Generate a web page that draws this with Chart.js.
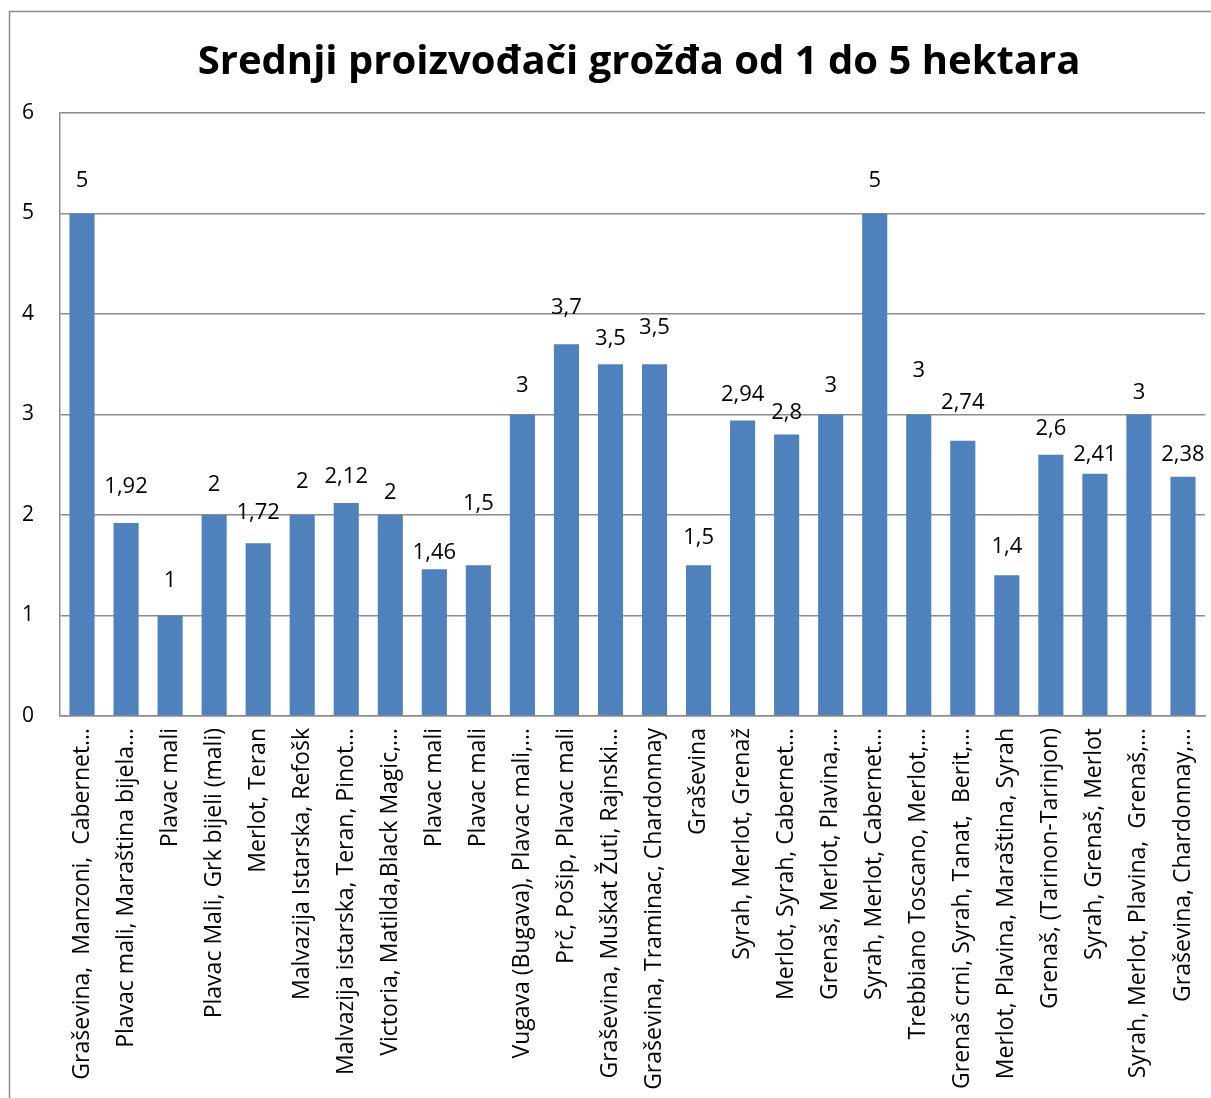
<!DOCTYPE html>
<html><head><meta charset="utf-8">
<script src="https://cdn.jsdelivr.net/npm/chart.js@4/dist/chart.umd.min.js"></script>
<style>html,body{margin:0;padding:0;background:#fff;overflow:hidden}#wrap{position:absolute;left:0;top:0;width:1211px;height:1098px}</style>
</head><body><div id="wrap"><canvas id="c" width="1211" height="1098"></canvas></div>
<script>
const titleText = "Srednji proizvođači grožđa od 1 do 5 hektara";
const categories = [
  "Graševina,  Manzoni,  Cabernet…",
  "Plavac mali, Maraština bijela…",
  "Plavac mali",
  "Plavac Mali, Grk bijeli (mali)",
  "Merlot, Teran",
  "Malvazija Istarska, Refošk",
  "Malvazija istarska, Teran, Pinot…",
  "Victoria, Matilda,Black Magic,…",
  "Plavac mali",
  "Plavac mali",
  "Vugava (Bugava), Plavac mali,…",
  "Prč, Pošip, Plavac mali",
  "Graševina, Muškat Žuti, Rajnski…",
  "Graševina, Traminac, Chardonnay",
  "Graševina",
  "Syrah, Merlot, Grenaž",
  "Merlot, Syrah, Cabernet…",
  "Grenaš, Merlot, Plavina,…",
  "Syrah, Merlot, Cabernet…",
  "Trebbiano Toscano, Merlot,…",
  "Grenaš crni, Syrah, Tanat,  Berit,…",
  "Merlot, Plavina, Maraština, Syrah",
  "Grenaš, (Tarinon-Tarinjon)",
  "Syrah, Grenaš, Merlot",
  "Syrah, Merlot, Plavina,  Grenaš,…",
  "Graševina, Chardonnay,…"
];
const values = [5, 1.92, 1, 2, 1.72, 2, 2.12, 2, 1.46, 1.5, 3, 3.7, 3.5, 3.5, 1.5, 2.94, 2.8, 3, 5, 3, 2.74, 1.4, 2.6, 2.41, 3, 2.38];
const valueLabels = ["5","1,92","1","2","1,72","2","2,12","2","1,46","1,5","3","3,7","3,5","3,5","1,5","2,94","2,8","3","5","3","2,74","1,4","2,6","2,41","3","2,38"];
const yMin = 0, yMax = 6, yStep = 1;

// label placement (px above bar top), as manually placed in the original
const labelLift = [33,36,35,30,30,33,26,22,17,62,29,36,26,37,28,26,22,29,33,44,38,29,26,19,22,22];

const FONT = "'Open Sans', 'Noto Sans', sans-serif";
const GRID = '#8c8c8c';

const framePlugin = {
  id: 'frame',
  beforeDraw(chart) {
    const c = chart.ctx;
    c.save();
    c.fillStyle = '#fff';
    c.fillRect(0, 0, chart.width, chart.height);
    c.strokeStyle = GRID;
    c.lineWidth = 1.5;
    c.strokeRect(9.5, 11.5, 1400, 1400);
    c.restore();
  },
  afterDraw(chart) {
    const c = chart.ctx;
    c.save();
    c.fillStyle = '#000';
    c.font = "bold 40px " + FONT;
    c.textAlign = 'center';
    c.textBaseline = 'alphabetic';
    c.fillText(titleText, 639, 74);
    // data labels
    const meta = chart.getDatasetMeta(0);
    c.font = "22px " + FONT;
    c.textBaseline = 'middle';
    meta.data.forEach((el, i) => {
      c.fillText(valueLabels[i], el.x, el.y - labelLift[i]);
    });
    c.restore();
  }
};

new Chart(document.getElementById('c'), {
  type: 'bar',
  data: {
    labels: categories,
    datasets: [{
      data: values,
      backgroundColor: '#4F81BD',
      borderWidth: 0,
      categoryPercentage: 0.57,
      barPercentage: 1
    }]
  },
  options: {
    responsive: false,
    animation: false,
    devicePixelRatio: 1,
    layout: { padding: { top: 113, right: 6, left: 0, bottom: 0 } },
    plugins: { legend: { display: false }, tooltip: { enabled: false }, title: { display: false } },
    scales: {
      y: {
        min: yMin, max: yMax,
        ticks: { stepSize: yStep, color: '#000', font: { family: FONT, size: 21 }, padding: 26 },
        grid: { color: GRID, lineWidth: 1.5, drawTicks: false },
        border: { color: GRID, width: 1.5 },
        afterFit(s) { s.width = 60; s.paddingTop = 0; s.paddingBottom = 0; }
      },
      x: {
        ticks: { color: '#000', font: { family: FONT, size: 23 }, minRotation: 90, maxRotation: 90, autoSkip: false, padding: 12 },
        grid: { display: false, drawTicks: false },
        border: { color: GRID, width: 1.5 },
        afterFit(s) { s.height = 382; s.paddingLeft = 0; s.paddingRight = 0; }
      }
    }
  },
  plugins: [framePlugin]
});
</script>
</body></html>
